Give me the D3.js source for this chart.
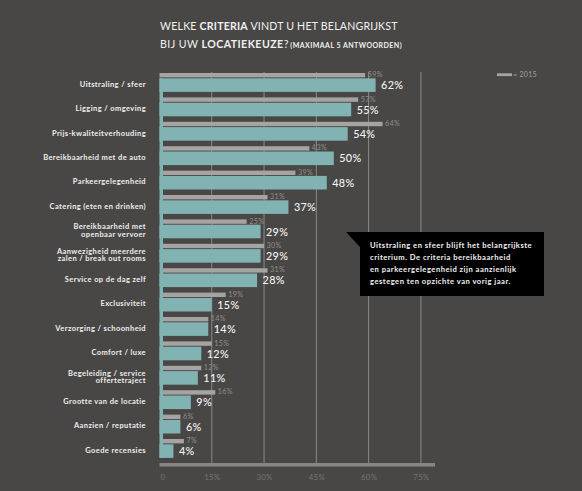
<!DOCTYPE html>
<html>
<head>
<meta charset="utf-8">
<script src="https://cdn.jsdelivr.net/npm/d3@7"></script>
<style>
  html, body { margin: 0; padding: 0; background: #494745; }
  svg { display: block; font-family: Lato, "Open Sans", sans-serif; }
</style>
</head>
<body>
<div id="chart"></div>
<script>
// categories (top to bottom), "\n" splits two-line labels
var categories = [
	"Uitstraling / sfeer",
	"Ligging / omgeving",
	"Prijs-kwaliteitverhouding",
	"Bereikbaarheid met de auto",
	"Parkeergelegenheid",
	"Catering (eten en drinken)",
	"Bereikbaarheid met\nopenbaar vervoer",
	"Aanwezigheid meerdere\nzalen / break out rooms",
	"Service op de dag zelf",
	"Exclusiviteit",
	"Verzorging / schoonheid",
	"Comfort / luxe",
	"Begeleiding / service\noffertetraject",
	"Grootte van de locatie",
	"Aanzien / reputatie",
	"Goede recensies"
];

var values2016 = [62, 55, 54, 50, 48, 37, 29, 29, 28, 15, 14, 12, 11, 9, 6, 4];
var values2015 = [59, 57, 64, 43, 39, 31, 25, 30, 31, 19, 14, 15, 12, 16, 6, 7];

var tickValues = [0, 15, 30, 45, 60, 75];
var tickLabels = ["0", "15%", "30%", "45%", "60%", "75%"];

var titleLine1 = [["WELKE ", 400], ["CRITERIA", 700], [" VINDT U HET BELANGRIJKST", 400]];
var titleLine2 = [["BIJ UW ", 400], ["LOCATIEKEUZE", 700], ["?", 400]];
var titleNote = "(MAXIMAAL 5 ANTWOORDEN)";

var noteLines = [
	"Uitstraling en sfeer blijft het belangrijkste",
	"criterium. De criteria bereikbaarheid",
	"en parkeergelegenheid zijn aanzienlijk",
	"gestegen ten opzichte van vorig jaar."
];

var width = 582, height = 491;
var teal = "#80b3b1", grey = "#a6a4a2";

var svg = d3.select("#chart")
	.append("svg")
	.attr("width", width)
	.attr("height", height);

var rows = categories.map(function(c, i){
	return {cat: c, v16: values2016[i], v15: values2015[i], i: i};
});

var x = d3.scaleLinear()
	.domain([0, 75])
	.range([159.5, 420.9]);

var y = d3.scaleBand()
	.domain(categories)
	.range([73, 73 + 24.4 * categories.length]);

var greyH = 4.4, tealOff = 5.3, tealH = 13.6;

// title
function titleRow(parts, yy, ls){
	var t = svg.append("text")
		.attr("x", 160)
		.attr("y", yy)
		.style("font-size", "10.6px")
		.style("letter-spacing", ls)
		.style("fill", "#f1f1f1");
	parts.forEach(function(p){
		t.append("tspan").style("font-weight", p[1]).text(p[0]);
	});
	return t;
}
titleRow(titleLine1, 29.8, "0.2px");
titleRow(titleLine2, 47.8, "0.45px")
	.append("tspan")
	.attr("dx", 1.5)
	.style("font-size", "7px")
	.style("letter-spacing", "0.45px")
	.style("font-weight", 700)
	.text(titleNote);

// gridlines
svg.selectAll("line.grid")
	.data(tickValues.slice(1))
	.enter()
	.append("line")
	.attr("class", "grid")
	.attr("x1", function(d){ return x(d); })
	.attr("x2", function(d){ return x(d); })
	.attr("y1", 72)
	.attr("y2", 463)
	.style("stroke", "#8a8886")
	.style("stroke-width", 1);

// axis bar + tick labels
svg.append("rect")
	.attr("x", x(0))
	.attr("y", 463)
	.attr("width", 435 - x(0))
	.attr("height", 3.6)
	.style("fill", "#878583");

var xAxis = d3.axisBottom(x)
	.tickValues(tickValues)
	.tickSize(0)
	.tickFormat(function(d, i){ return tickLabels[i]; });

var ax = svg.append("g")
	.attr("class", "x axis")
	.attr("transform", "translate(0,473)")
	.call(xAxis);
ax.select(".domain").remove();
ax.selectAll("text")
	.style("font-family", "Lato, sans-serif")
	.style("font-size", "7.8px")
	.style("letter-spacing", "0.3px")
	.style("fill", "#75726f")
	.attr("dy", "0.55em")
	.attr("dx", function(d){ return d == 0 ? 3 : 0; });

// 2015 bars
svg.selectAll("rect.b15")
	.data(rows)
	.enter()
	.append("rect")
	.attr("class", "b15")
	.attr("x", function(d){ return d.i == 0 ? x(0) : x(0) + 3.5; })
	.attr("y", function(d){ return y(d.cat); })
	.attr("width", function(d){ return x(d.v15) - (d.i == 0 ? x(0) : x(0) + 3.5); })
	.attr("height", greyH)
	.style("fill", grey);

// teal strip on the left
svg.append("rect")
	.attr("x", x(0))
	.attr("y", y(categories[0]) + tealOff)
	.attr("width", 3.5)
	.attr("height", y(categories[categories.length - 1]) - y(categories[0]) + tealH)
	.style("fill", teal);

// 2016 bars
svg.selectAll("rect.b16")
	.data(rows)
	.enter()
	.append("rect")
	.attr("class", "b16")
	.attr("x", x(0))
	.attr("y", function(d){ return y(d.cat) + tealOff; })
	.attr("width", function(d){ return x(d.v16) - x(0); })
	.attr("height", tealH)
	.style("fill", teal);

// value labels
svg.selectAll("text.v15")
	.data(rows)
	.enter()
	.append("text")
	.attr("class", "v15")
	.attr("x", function(d){ return x(d.v15) + 2.5; })
	.attr("y", function(d){ return y(d.cat) + greyH / 2 + 2; })
	.style("font-size", "7.2px")
	.style("letter-spacing", "0.35px")
	.style("fill", "#8f8d8b")
	.text(function(d){ return d.v15 + "%"; });

svg.selectAll("text.v16")
	.data(rows)
	.enter()
	.append("text")
	.attr("class", "v16")
	.attr("x", function(d){ return x(d.v16) + 5.5; })
	.attr("y", function(d){ return y(d.cat) + tealOff + tealH / 2 + 4; })
	.style("font-size", "10.8px")
	.style("font-weight", 500)
	.style("letter-spacing", "0.3px")
	.style("fill", "#f4f4f4")
	.text(function(d){ return d.v16 + "%"; });

// category labels
var lab = svg.selectAll("text.cat")
	.data(rows)
	.enter()
	.append("text")
	.attr("class", "cat")
	.attr("text-anchor", "end")
	.style("font-size", "7.5px")
	.style("font-weight", 700)
	.style("letter-spacing", "0.4px")
	.style("fill", "#eeeeee");
lab.each(function(d){
	var lines = d.cat.split("\n");
	var mid = y(d.cat) + tealOff + tealH / 2 - 1;
	var top = mid - (lines.length - 1) * 7.8 / 2;
	var t = d3.select(this);
	lines.forEach(function(l, k){
		t.append("tspan")
			.attr("x", 146)
			.attr("y", top + k * 7.8 + 2.6)
			.text(l);
	});
});

// legend
svg.append("rect")
	.attr("x", 497)
	.attr("y", 73.3)
	.attr("width", 15)
	.attr("height", 2.8)
	.style("fill", grey);
svg.append("text")
	.attr("x", 513)
	.attr("y", 77)
	.style("font-size", "7px")
	.style("letter-spacing", "0.3px")
	.style("fill", "#a3a19f")
	.text("= 2015");

// note box
svg.append("polygon")
	.attr("points", "346,232 544,232 544,296 360,296 360,247")
	.style("fill", "#000");
svg.selectAll("text.note")
	.data(noteLines)
	.enter()
	.append("text")
	.attr("class", "note")
	.attr("x", 370)
	.attr("y", function(d, i){ return 247.6 + i * 12; })
	.style("font-size", "7.6px")
	.style("font-weight", 700)
	.style("letter-spacing", "0.5px")
	.style("fill", "#f2f2f2")
	.text(function(d){ return d; });
</script>
</body>
</html>
